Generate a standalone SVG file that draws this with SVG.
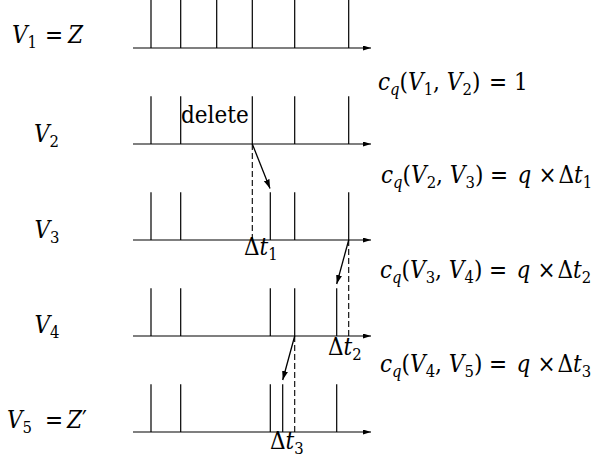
<svg xmlns="http://www.w3.org/2000/svg" width="595" height="461" viewBox="0 0 595 461">
<defs>
<style>
.ax{stroke:#000;stroke-width:1.2;fill:none}
.tk{stroke:#000;stroke-width:1.2}
.ds{stroke:#000;stroke-width:1.1;stroke-dasharray:6,3}
.ar{stroke:#000;stroke-width:1.3;fill:none}
text{font-family:'DejaVu Serif Condensed','DejaVu Serif',serif;font-stretch:condensed;font-size:24px;fill:#000}
.i{font-style:italic}
.s{font-size:16.5px}
</style>
<marker id="ah" markerUnits="userSpaceOnUse" markerWidth="9" markerHeight="6" refX="8" refY="2.5" orient="auto">
<path d="M0,0 L8,2.5 L0,5 z" fill="#000"/>
</marker>
<marker id="ah2" markerUnits="userSpaceOnUse" markerWidth="10" markerHeight="7" refX="9" refY="3" orient="auto">
<path d="M0,0 L9,3 L0,6 z" fill="#000"/>
</marker>
</defs>

<g id="row1">
<line class="ax" x1="133" y1="48" x2="371" y2="48" marker-end="url(#ah)"/>
<path class="tk" d="M151,0V48M180.7,0V48M216.7,0V48M252.3,0V48M294.7,0V48M348.7,0V48"/>
<text x="12" y="43"><tspan class="i">V</tspan><tspan class="s" dy="5">1</tspan><tspan x="45" dy="-5">=</tspan><tspan class="i" x="68">Z</tspan></text>
</g>

<g id="row2">
<line class="ax" x1="133" y1="144" x2="371" y2="144" marker-end="url(#ah)"/>
<path class="tk" d="M151,96.3V144M180.7,96.3V144M252.3,96.3V144M294.7,96.3V144M348.7,96.3V144"/>
<text x="34" y="142"><tspan class="i">V</tspan><tspan class="s" dy="5">2</tspan></text>
<text x="181" y="122.5">delete</text>
</g>

<g id="row3">
<line class="ax" x1="133" y1="240" x2="371" y2="240" marker-end="url(#ah)"/>
<path class="tk" d="M151,192.3V240M180.7,192.3V240M270.3,192.3V240M294.7,192.3V240M348.7,192.3V240"/>
<text x="34.5" y="238"><tspan class="i">V</tspan><tspan class="s" dy="5">3</tspan></text>
<text x="244" y="255">Δ<tspan class="i">t</tspan><tspan class="s" dy="5">1</tspan></text>
</g>

<g id="row4">
<line class="ax" x1="133" y1="336" x2="371" y2="336" marker-end="url(#ah)"/>
<path class="tk" d="M151,288.3V336M180.7,288.3V336M270.3,288.3V336M294.7,288.3V336M336.7,288.3V336"/>
<text x="34.5" y="333"><tspan class="i">V</tspan><tspan class="s" dy="5">4</tspan></text>
<text x="328" y="355">Δ<tspan class="i">t</tspan><tspan class="s" dy="5">2</tspan></text>
</g>

<g id="row5">
<line class="ax" x1="133" y1="432" x2="371" y2="432" marker-end="url(#ah)"/>
<path class="tk" d="M151,384.3V432M180.7,384.3V432M270.3,384.3V432M282.7,384.3V432M336.7,384.3V432"/>
<text x="7" y="428"><tspan class="i">V</tspan><tspan class="s" dy="5">5</tspan><tspan x="45" dy="-5">=</tspan><tspan class="i" x="67">Z</tspan><tspan x="82">′</tspan></text>
<text x="270" y="449">Δ<tspan class="i">t</tspan><tspan class="s" dy="5">3</tspan></text>
</g>

<g id="costs">
<text x="378" y="90"><tspan class="i">c</tspan><tspan class="s i" dy="5">q</tspan><tspan dy="-5">(</tspan><tspan class="i">V</tspan><tspan class="s" dy="5">1</tspan><tspan dy="-5">, </tspan><tspan class="i">V</tspan><tspan class="s" dy="5">2</tspan><tspan dy="-5">)</tspan><tspan x="489">=</tspan><tspan x="514">1</tspan></text>
<text x="381" y="183"><tspan class="i">c</tspan><tspan class="s i" dy="5">q</tspan><tspan dy="-5">(</tspan><tspan class="i">V</tspan><tspan class="s" dy="5">2</tspan><tspan dy="-5">, </tspan><tspan class="i">V</tspan><tspan class="s" dy="5">3</tspan><tspan dy="-5">)</tspan><tspan x="490">=</tspan><tspan class="i" x="517.5">q</tspan><tspan x="538.5">×</tspan><tspan x="558.5">Δ</tspan><tspan class="i">t</tspan><tspan class="s" dy="5">1</tspan></text>
<text x="380" y="278"><tspan class="i">c</tspan><tspan class="s i" dy="5">q</tspan><tspan dy="-5">(</tspan><tspan class="i">V</tspan><tspan class="s" dy="5">3</tspan><tspan dy="-5">, </tspan><tspan class="i">V</tspan><tspan class="s" dy="5">4</tspan><tspan dy="-5">)</tspan><tspan x="489">=</tspan><tspan class="i" x="516.5">q</tspan><tspan x="537.5">×</tspan><tspan x="557.5">Δ</tspan><tspan class="i">t</tspan><tspan class="s" dy="5">2</tspan></text>
<text x="380" y="371.5"><tspan class="i">c</tspan><tspan class="s i" dy="5">q</tspan><tspan dy="-5">(</tspan><tspan class="i">V</tspan><tspan class="s" dy="5">4</tspan><tspan dy="-5">, </tspan><tspan class="i">V</tspan><tspan class="s" dy="5">5</tspan><tspan dy="-5">)</tspan><tspan x="489">=</tspan><tspan class="i" x="516.5">q</tspan><tspan x="537.5">×</tspan><tspan x="557.5">Δ</tspan><tspan class="i">t</tspan><tspan class="s" dy="5">3</tspan></text>
</g>

<g id="connectors">
<line class="ds" x1="252.3" y1="144" x2="252.3" y2="240"/>
<line class="ds" x1="348.7" y1="240" x2="348.7" y2="336"/>
<line class="ds" x1="294.7" y1="336" x2="294.7" y2="432"/>
<line class="ar" x1="252.3" y1="144" x2="270" y2="188.5" marker-end="url(#ah2)"/>
<line class="ar" x1="348.7" y1="240" x2="336.7" y2="284" marker-end="url(#ah2)"/>
<line class="ar" x1="294.7" y1="336" x2="282.7" y2="380" marker-end="url(#ah2)"/>
</g>
</svg>
